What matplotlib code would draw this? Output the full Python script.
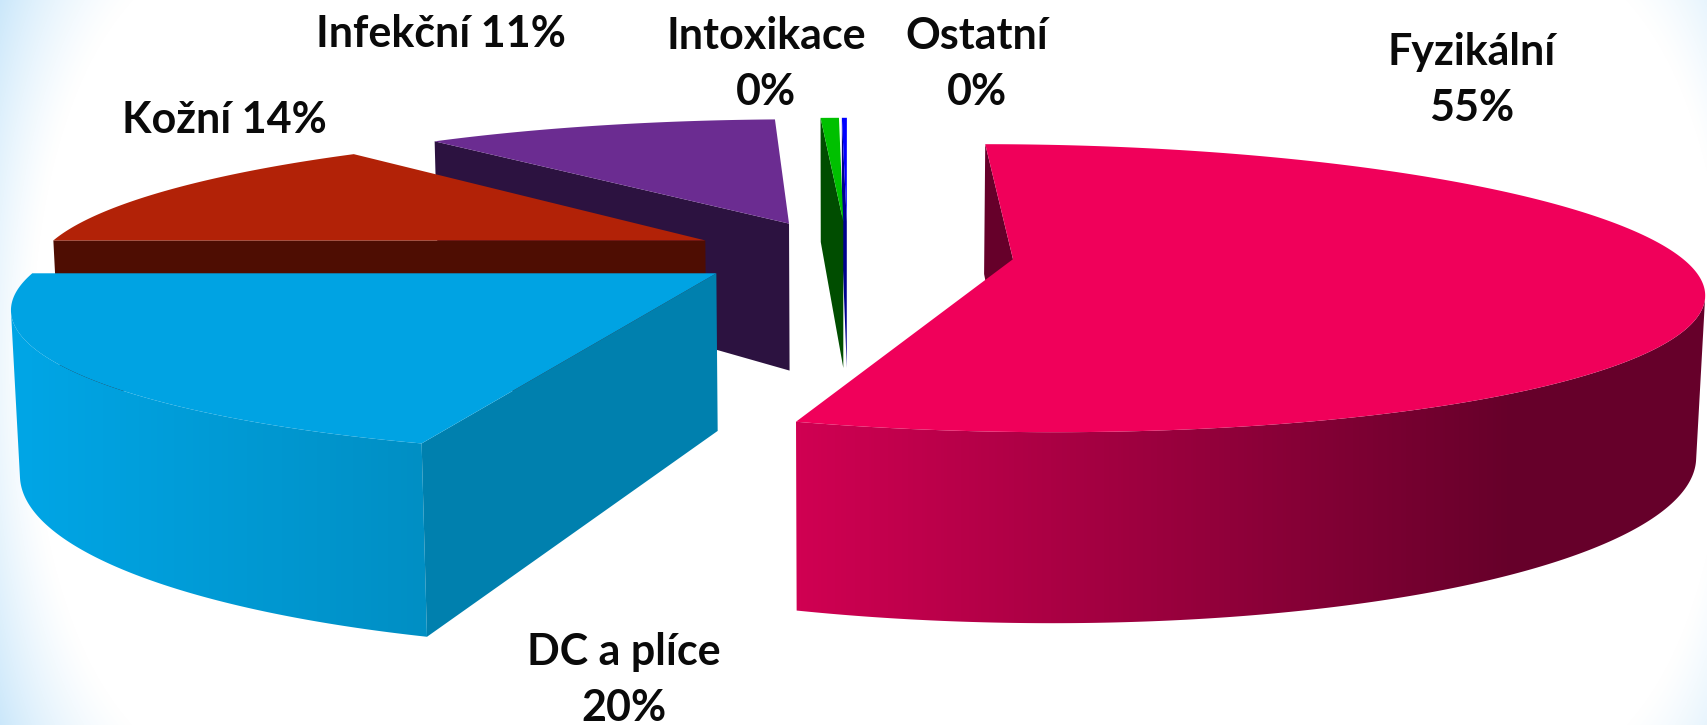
# 3D exploded pie, perspective drawn by hand
import numpy as np
import matplotlib
matplotlib.use('Agg')
import matplotlib.pyplot as plt
from matplotlib.colors import LinearSegmentedColormap
from matplotlib.patches import Polygon

# Data
names = ['Fyzikální', 'DC a plíce', 'Kožní', 'Infekční', 'Intoxikace', 'Ostatní']
values = [55.0, 20.0, 13.7, 10.6, 0.55, 0.15]
labels = ['Fyzikální\n55%', 'DC a plíce\n20%', 'Kožní 14%', 'Infekční 11%', 'Intoxikace\n0%', 'Ostatní\n0%']
label_x = [1472, 624, 224, 441, 766, 977]
label_y = [80, 680, 120, 34, 64, 64]

# Styles
top_col = ['#F0005A', '#00A3E3', '#B22207', '#6B2C91', '#00C000', '#0000FF']
cut_col = ['#66002A', '#0080AE', '#4E0D02', '#2C1240', '#004D00', '#000090']
wall_from = ['#D00052', '#00A5E5', '#4E0D02', '#2C1240', '#004D00', '#000090']
wall_to = ['#66002A', '#008FC4', '#4E0D02', '#2C1240', '#004D00', '#000090']
wall_range = [(798, 1515), (30, 425), (0, 1), (0, 1), (0, 1), (0, 1)]
explode = [0.25, 0.237, 0.24, 0.25, 0.25, 0.25]

# Projection parameters (pixels)
X0, Y0 = 847.5, 253.8
R, H, D = 665, 136, 155
p, q = 0.2, 0.01

W_px, H_px = 1708, 725


def project(u, v, w):
    s = 1 / (1 + p * v + q * w)
    return X0 + R * u * s, Y0 + (-H * v + D * w) * s


def strip(a, b):
    # wall quad hanging under the edge a-b in the pie plane
    ax, ay = project(a[0], a[1], 0)
    bx, by = project(b[0], b[1], 0)
    cx, cy = project(b[0], b[1], 1)
    dx, dy = project(a[0], a[1], 1)
    return np.array([[ax, ay], [bx, by], [cx, cy], [dx, dy]])


def facing(quad):
    x, y = quad[:, 0], quad[:, 1]
    return np.sum(x * np.roll(y, -1) - np.roll(x, -1) * y) < 0


fig = plt.figure(figsize=(W_px / 100, H_px / 100), dpi=100)
ax = fig.add_axes([0, 0, 1, 1])
ax.axis('off')

# Background vignette
xx, yy = np.meshgrid(np.arange(W_px), np.arange(H_px))
xn = np.abs(xx - (W_px / 2 + 25)) / (W_px / 2)
yn = np.abs(yy - H_px / 2) / (H_px / 2)
d = np.sqrt(xn ** 8 + yn ** 2 * 0.6)
t = np.clip((d - 0.97) / 0.42, 0, 1) ** 1.2
bg = np.ones((H_px, W_px, 3))
corner = np.array([0.78, 0.90, 0.98])
for i in range(3):
    bg[:, :, i] = 1 - t * (1 - corner[i])
ax.imshow(bg, extent=(0, W_px, H_px, 0), aspect='auto', zorder=0)

# Slices
angles = np.cumsum([0] + values) / sum(values) * 2 * np.pi
slices = []
for i in range(len(values)):
    a0, a1 = angles[i], angles[i + 1]
    mid = (a0 + a1) / 2
    cu, cv = explode[i] * np.sin(mid), explode[i] * np.cos(mid)
    slices.append((project(cu, cv, 0)[1], i, a0, a1, cu, cv))

# back to front
for z, (_, i, a0, a1, cu, cv) in enumerate(sorted(slices)):
    th = np.linspace(a0, a1, max(int((a1 - a0) * 120), 3))
    arc = np.c_[cu + np.sin(th), cv + np.cos(th)]
    base = 10 * (z + 1)

    # outer wall, gradient image clipped to the visible part of the rim
    seen = [k for k in range(len(arc) - 1) if facing(strip(arc[k], arc[k + 1]))]
    if seen:
        rim = arc[seen[0]:seen[-1] + 2]
        tx, ty = project(rim[:, 0], rim[:, 1], 0)
        bx, by = project(rim[:, 0], rim[:, 1], 1)
        outline = np.r_[np.c_[tx, ty], np.c_[bx, by][::-1]]
        lo, hi = wall_range[i]
        cmap = LinearSegmentedColormap.from_list('w', [wall_from[i], wall_to[i]])
        grad = np.clip((np.arange(W_px) - lo) / (hi - lo), 0, 1)[None, :]
        im = ax.imshow(grad, cmap=cmap, vmin=0, vmax=1, extent=(0, W_px, H_px, 0), aspect='auto', zorder=base)
        im.set_clip_path(Polygon(outline, transform=ax.transData))

    # flat cut walls
    centre = (cu, cv)
    for e in [strip(centre, arc[0]), strip(arc[-1], centre)]:
        if facing(e):
            ax.fill(e[:, 0], e[:, 1], color=cut_col[i], lw=0, zorder=base + 1)

    # top face
    px, py = project(np.r_[cu, arc[:, 0]], np.r_[cv, arc[:, 1]], 0)
    ax.fill(px, py, color=top_col[i], lw=0, zorder=base + 2)

# Labels
for i in range(len(labels)):
    ax.text(label_x[i], label_y[i], labels[i], ha='center', va='center', family='Lato',
            fontweight='bold', fontsize=31, linespacing=1.49, color='#0a0a0a', zorder=200)

ax.set_xlim(0, W_px)
ax.set_ylim(H_px, 0)
fig.savefig('out.png', dpi=100)
